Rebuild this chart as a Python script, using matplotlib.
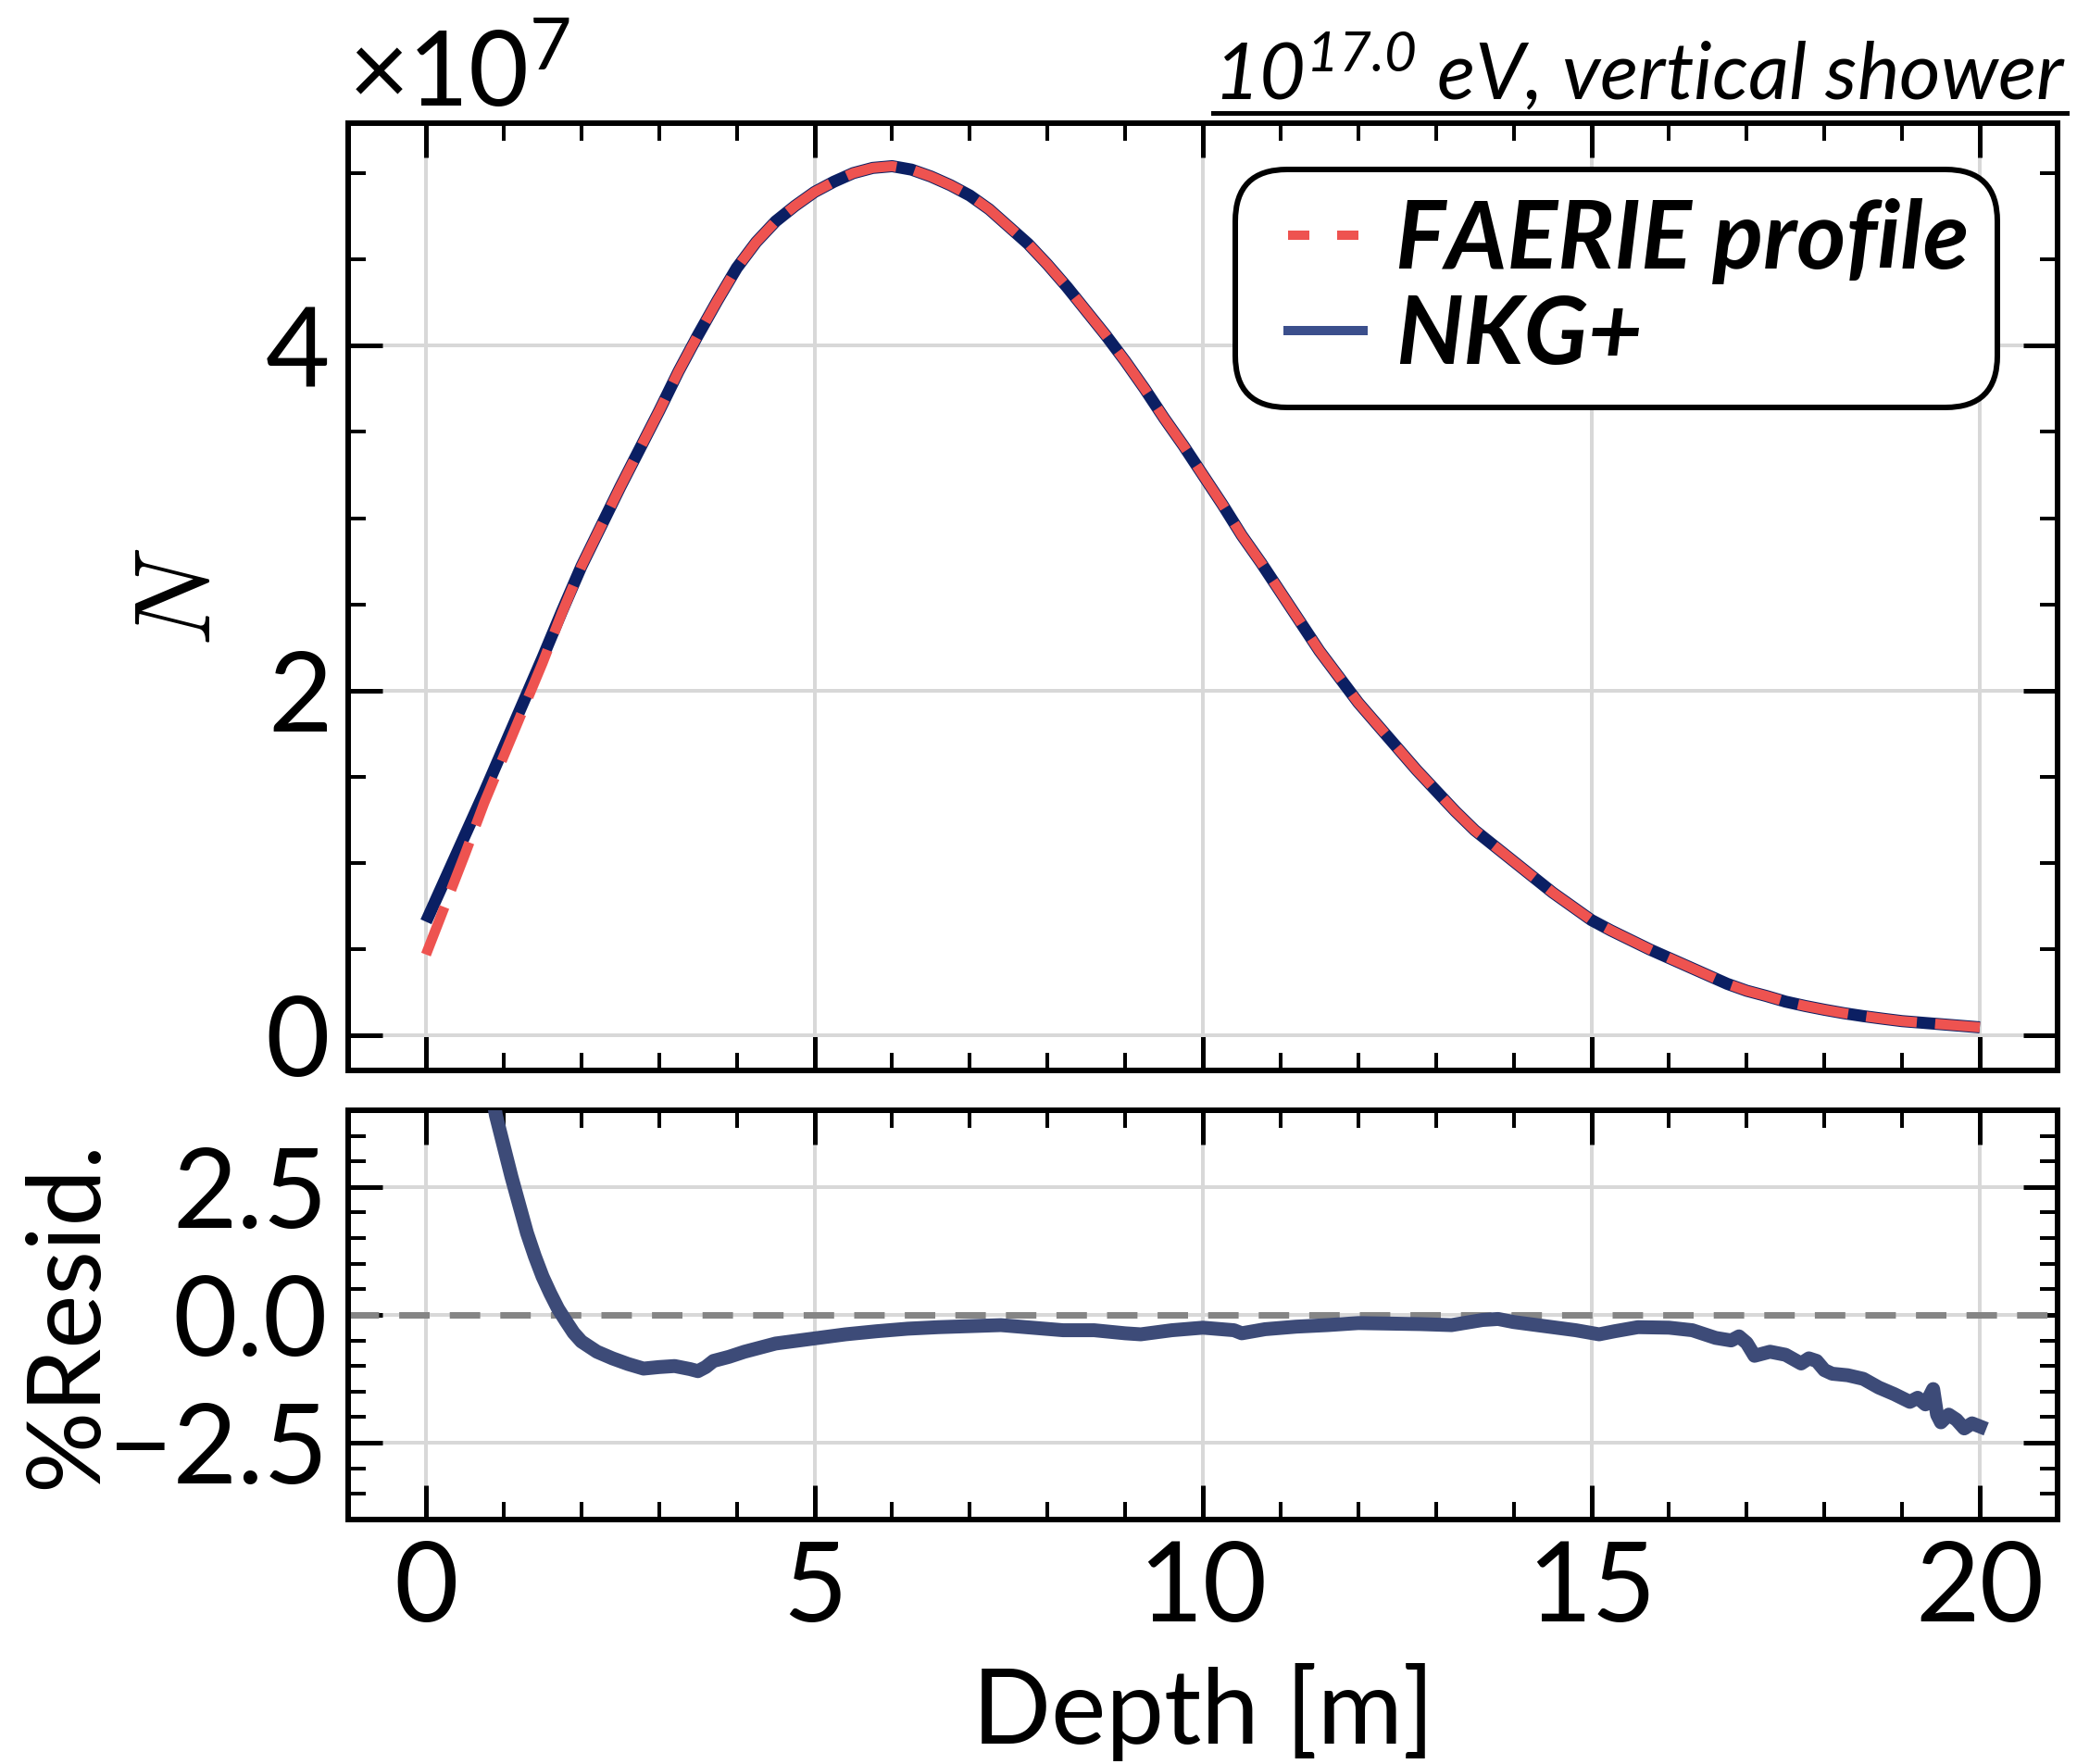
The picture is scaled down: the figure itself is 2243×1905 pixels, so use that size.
import numpy as np
import matplotlib
matplotlib.use("Agg")
import matplotlib.pyplot as plt
from matplotlib.lines import Line2D
from matplotlib.legend_handler import HandlerLine2D
from matplotlib.ticker import MultipleLocator, ScalarFormatter

# longitudinal profile, N in units of 1e7
depth = [0, 0.25, 0.5, 0.75, 1, 1.25, 1.5, 1.75, 2, 2.25, 2.5, 2.75, 3, 3.25, 3.5, 3.75,
         4, 4.25, 4.5, 4.75, 5, 5.25, 5.5, 5.75, 6, 6.25, 6.5, 6.75, 7, 7.25, 7.5, 7.75,
         8, 8.25, 8.5, 8.75, 9, 9.25, 9.5, 9.75, 10, 10.25, 10.5, 10.75, 11, 11.25, 11.5,
         11.75, 12, 12.25, 12.5, 12.75, 13, 13.25, 13.5, 13.75, 14, 14.25, 14.5, 14.75,
         15, 15.25, 15.5, 15.75, 16, 16.25, 16.5, 16.75, 17, 17.25, 17.5, 17.75, 18,
         18.25, 18.5, 18.75, 19, 19.25, 19.5, 19.75, 20]
nkg = [0.66, 0.91, 1.16, 1.41, 1.67, 1.93, 2.19, 2.46, 2.72, 2.95, 3.18, 3.40, 3.62, 3.85,
       4.06, 4.26, 4.45, 4.60, 4.72, 4.81, 4.89, 4.95, 5.00, 5.03, 5.04, 5.02, 4.98, 4.93,
       4.87, 4.79, 4.69, 4.59, 4.47, 4.34, 4.20, 4.06, 3.91, 3.75, 3.58, 3.42, 3.25, 3.08,
       2.90, 2.74, 2.57, 2.40, 2.23, 2.08, 1.93, 1.80, 1.67, 1.54, 1.42, 1.30, 1.19, 1.10,
       1.01, 0.92, 0.83, 0.75, 0.67, 0.61, 0.555, 0.50, 0.45, 0.40, 0.35, 0.30, 0.26, 0.23,
       0.197, 0.172, 0.15, 0.13, 0.113, 0.098, 0.084, 0.075, 0.066, 0.057, 0.048]
faerie = [0.47, 0.76, 1.05, 1.35, 1.62, 1.89, 2.16, 2.45, 2.72, 2.95, 3.18, 3.40, 3.62, 3.85,
          4.06, 4.26, 4.45, 4.60, 4.72, 4.81, 4.89, 4.95, 5.00, 5.03, 5.04, 5.02, 4.98, 4.93,
          4.87, 4.79, 4.69, 4.59, 4.47, 4.34, 4.20, 4.06, 3.91, 3.75, 3.58, 3.42, 3.25, 3.08,
          2.90, 2.74, 2.57, 2.40, 2.23, 2.08, 1.93, 1.80, 1.67, 1.54, 1.42, 1.30, 1.19, 1.10,
          1.01, 0.92, 0.83, 0.75, 0.67, 0.61, 0.555, 0.50, 0.45, 0.40, 0.35, 0.30, 0.26, 0.23,
          0.197, 0.172, 0.15, 0.13, 0.113, 0.098, 0.084, 0.075, 0.066, 0.057, 0.048]

# percent residual
res_depth = [0, 0.25, 0.5, 0.75, 0.9, 1.0, 1.1, 1.2, 1.3, 1.4, 1.5, 1.6, 1.7, 1.8, 1.9, 2.0,
             2.2, 2.4, 2.6, 2.8, 3.0, 3.2, 3.4, 3.5, 3.6, 3.7, 3.9, 4.1, 4.3, 4.5, 4.8, 5.0,
             5.4, 5.8, 6.2, 6.6, 7.0, 7.4, 7.8, 8.2, 8.6, 9.0, 9.2, 9.6, 10.0, 10.4, 10.5,
             10.8, 11.2, 11.6, 12.0, 12.4, 12.8, 13.2, 13.6, 13.8, 14.0, 14.4, 14.8, 15.1,
             15.3, 15.6, 16.0, 16.3, 16.6, 16.8, 16.9, 17.0, 17.1, 17.3, 17.5, 17.7, 17.8,
             17.9, 18.0, 18.1, 18.3, 18.5, 18.7, 18.9, 19.1, 19.2, 19.3, 19.4, 19.45, 19.5,
             19.6, 19.7, 19.8, 19.9, 20.0]
resid = [40, 15, 8, 5.2, 3.9, 3.3, 2.7, 2.15, 1.6, 1.15, 0.75, 0.42, 0.12, -0.12, -0.35, -0.52,
         -0.72, -0.85, -0.96, -1.05, -1.02, -1.0, -1.06, -1.10, -1.02, -0.9, -0.82, -0.72,
         -0.64, -0.56, -0.5, -0.46, -0.38, -0.32, -0.27, -0.24, -0.22, -0.2, -0.25, -0.3,
         -0.3, -0.36, -0.38, -0.3, -0.25, -0.3, -0.36, -0.28, -0.23, -0.2, -0.16, -0.17,
         -0.18, -0.2, -0.1, -0.08, -0.14, -0.22, -0.3, -0.38, -0.32, -0.24, -0.25, -0.3,
         -0.45, -0.5, -0.42, -0.55, -0.8, -0.72, -0.78, -0.95, -0.85, -0.9, -1.08, -1.15,
         -1.18, -1.25, -1.42, -1.55, -1.7, -1.62, -1.75, -1.45, -1.95, -2.1, -1.95, -2.05,
         -2.22, -2.12, -2.18]

W, H, DPI = 2243, 1905, 100


def px(v):
    return v * 72.0 / DPI


plt.rcParams['font.family'] = ['Lato', 'DejaVu Sans']
plt.rcParams['mathtext.fontset'] = 'custom'
plt.rcParams['mathtext.rm'] = 'Lato'
plt.rcParams['mathtext.it'] = 'Lato:italic'
plt.rcParams['mathtext.bf'] = 'Lato:bold'

navy = '#0b1f63'
red = '#ee5350'
res_col = '#3d4b78'
grid_col = '#d8d8d8'

fig = plt.figure(figsize=(W / DPI, H / DPI), dpi=DPI)
ax1 = fig.add_axes([0.1677, 0.3932, 0.8229, 0.5370])
ax2 = fig.add_axes([0.1677, 0.1386, 0.8229, 0.2320], sharex=ax1)

N_nkg = np.array(nkg) * 1e7
N_faerie = np.array(faerie) * 1e7

ax1.plot(depth, N_nkg, color=navy, lw=px(13), solid_capstyle='butt',
         solid_joinstyle='round', zorder=3)
ax1.plot(depth, N_faerie, color=red, lw=px(11), ls=(0, (5.0, 1.8)),
         dash_capstyle='butt', dash_joinstyle='round', zorder=4)

ax2.plot(res_depth, resid, color=res_col, lw=px(15), solid_joinstyle='round', zorder=3)
ax2.axhline(0, color='#858585', lw=px(7), ls=(0, (4.7, 3.1)), zorder=2)

ax1.set_xlim(-1, 21)
ax2.set_ylim(-4, 4)

fmt = ScalarFormatter(useMathText=True)
fmt.set_powerlimits((0, 0))
ax1.yaxis.set_major_formatter(fmt)
ax1.yaxis.set_major_locator(MultipleLocator(2e7))
ax1.yaxis.set_minor_locator(MultipleLocator(0.5e7))
ax1.xaxis.set_major_locator(MultipleLocator(5))
ax1.xaxis.set_minor_locator(MultipleLocator(1))
ax2.yaxis.set_major_locator(MultipleLocator(2.5))
ax2.yaxis.set_minor_locator(MultipleLocator(0.5))

for ax in (ax1, ax2):
    ax.set_axisbelow(True)
    ax.grid(True, which='major', color=grid_col, lw=px(4))
    ax.tick_params(which='both', direction='in', top=True, right=True, labelsize=px(120))
    ax.tick_params(which='major', length=px(37), width=px(5))
    ax.tick_params(which='minor', length=px(19), width=px(4))
    ax.tick_params(axis='x', pad=px(22))
    ax.tick_params(axis='y', pad=px(22))
    for s in ax.spines.values():
        s.set_linewidth(px(6))

ax1.tick_params(axis='x', labelbottom=False)
ax1.yaxis.get_offset_text().set_fontsize(px(112))
ax1.yaxis.OFFSETTEXTPAD = 13

ax1.set_ylabel('$N$', fontsize=px(118), math_fontfamily='cm')
ax1.yaxis.set_label_coords(-0.070, 0.5)
ax2.set_ylabel('%Resid.', fontsize=px(110))
ax2.yaxis.set_label_coords(-0.137, 0.5)
ax2.set_xlabel('Depth [m]', fontsize=px(112))
ax2.xaxis.set_label_coords(0.5, -0.35)

h1 = Line2D([], [], color=red, lw=px(10), ls=(0, (2.3, 3.0)))
h2 = Line2D([], [], color='#3b4f8c', lw=px(10))
leg = ax1.legend([h1, h2], ['FAERIE profile', 'NKG+'], loc='upper right',
                 bbox_to_anchor=(0.965, 0.951), borderaxespad=0,
                 prop=dict(family='Lato', weight='bold', style='italic', size=px(102)),
                 handler_map={h1: HandlerLine2D(xpad=0.26), h2: HandlerLine2D(xpad=0.26)},
                 handlelength=1.05, handletextpad=0.35, borderpad=0.3, labelspacing=0.1,
                 fancybox=True, framealpha=1, edgecolor='black')
leg.get_frame().set_linewidth(px(6))
leg.get_frame().set_boxstyle('round', pad=0, rounding_size=0.55)

title = fig.text(0.995, 1 - 107 / H, r'$\mathdefault{10^{17.0}}$ eV, vertical shower',
                 ha='right', va='baseline', style='italic', fontsize=px(86))

# underline under the title
fig.canvas.draw()
bb = title.get_window_extent()
y_ul = (H - 122) / H
fig.add_artist(Line2D([bb.x0 / W, bb.x1 / W], [y_ul, y_ul], transform=fig.transFigure,
                      color='black', lw=px(5)))

fig.savefig('out.png', dpi=DPI)
